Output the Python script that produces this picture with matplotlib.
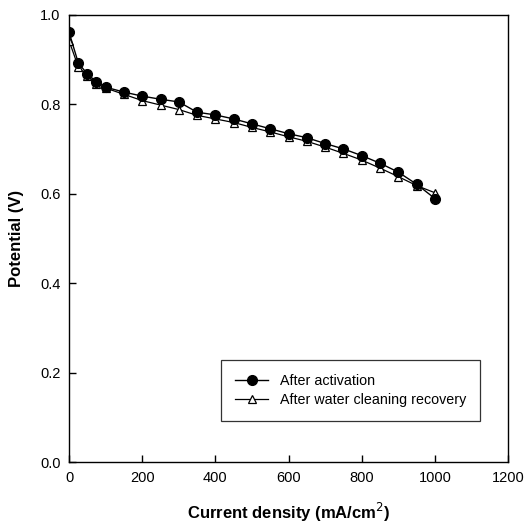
import matplotlib
matplotlib.use("Agg")
import matplotlib.pyplot as plt

plt.rcParams['font.family'] = ['Liberation Sans', 'DejaVu Sans']

current = [0, 25, 50, 75, 100, 150, 200, 250, 300, 350, 400, 450, 500,
           550, 600, 650, 700, 750, 800, 850, 900, 950, 1000]
after_activation = [0.961, 0.893, 0.867, 0.850, 0.838, 0.827, 0.818, 0.811,
                    0.805, 0.782, 0.776, 0.767, 0.756, 0.745, 0.734, 0.725,
                    0.712, 0.700, 0.685, 0.668, 0.648, 0.621, 0.589]
after_cleaning = [0.942, 0.884, 0.862, 0.846, 0.836, 0.822, 0.808, 0.798,
                  0.788, 0.775, 0.767, 0.759, 0.748, 0.738, 0.727, 0.717,
                  0.704, 0.690, 0.675, 0.657, 0.638, 0.618, 0.602]

fig = plt.figure(figsize=(5.31, 5.24), dpi=100)
ax = fig.add_axes([0.130, 0.118, 0.827, 0.854])

ax.plot(current, after_activation, '-', color='black', lw=1.0,
        marker='o', ms=7, mfc='black', mec='black',
        label='After activation', zorder=3)
ax.plot(current, after_cleaning, '-', color='black', lw=0.9,
        marker='^', ms=6, mfc='white', mec='black', mew=0.9,
        label='After water cleaning recovery', zorder=2)

ax.set_xlim(0, 1200)
ax.set_ylim(0.0, 1.0)
ax.set_xticks([0, 200, 400, 600, 800, 1000, 1200])
ax.set_yticks([0.0, 0.2, 0.4, 0.6, 0.8, 1.0])
ax.set_yticklabels(['0.0', '0.2', '0.4', '0.6', '0.8', '1.0'])
ax.tick_params(direction='in', length=5, width=1, labelsize=10.5,
               top=False, right=False, pad=6)
for s in ax.spines.values():
    s.set_linewidth(1.0)

ax.set_xlabel('Current density (mA/cm$^2$)', fontsize=12, fontweight='bold',
              labelpad=12)
ax.set_ylabel('Potential (V)', fontsize=12, fontweight='bold', labelpad=12)

leg = ax.legend(loc='lower left', bbox_to_anchor=(0.346, 0.092),
                borderaxespad=0.0,
                fontsize=10.3, frameon=True, fancybox=False, edgecolor='black',
                handlelength=2.3, borderpad=1.0, labelspacing=0.3)
leg.get_frame().set_linewidth(0.9)

fig.savefig('out.png', dpi=100)
